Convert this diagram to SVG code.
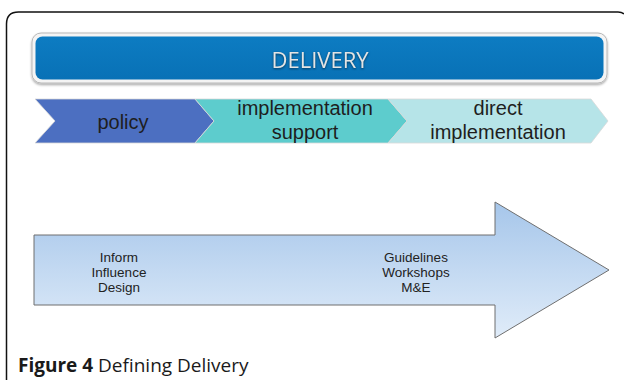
<svg xmlns="http://www.w3.org/2000/svg" width="624" height="380" viewBox="0 0 624 380">
<defs>
<linearGradient id="arrowGrad" x1="0" y1="0" x2="0" y2="1">
<stop offset="0" stop-color="#a6c6ea"/>
<stop offset="1" stop-color="#e0ecf9"/>
</linearGradient>
<linearGradient id="barGrad" x1="0" y1="0" x2="0" y2="1">
<stop offset="0" stop-color="#0d7cc2"/>
<stop offset="1" stop-color="#0871b6"/>
</linearGradient>
<filter id="sh" x="-5%" y="-20%" width="110%" height="150%">
<feDropShadow dx="0" dy="1.5" stdDeviation="1.2" flood-color="#000" flood-opacity="0.35"/>
</filter>
</defs>
<style>
.chev{stroke:#d8d8d8;stroke-width:0.8}
.lbl{font-family:"Liberation Sans",Arial,sans-serif;font-size:20px;fill:#1e1e1e;text-anchor:middle}
.small{font-family:"Liberation Sans",Arial,sans-serif;font-size:13.5px;fill:#222;text-anchor:middle}
.cap{font-family:"Open Sans","Noto Sans",sans-serif;font-size:19px;fill:#1a1a1a}
</style>
<rect width="624" height="380" fill="#ffffff"/>
<path d="M6.5,380 V24 Q6.5,12 18.5,12 H618 Q622,12 624,14" fill="none" stroke="#111" stroke-width="1.5"/>
<g id="delivery">
<rect x="32" y="33" width="575" height="50" rx="9" fill="#f4f4f4" stroke="#b8b8b8" stroke-width="1" filter="url(#sh)"/>
<rect x="35.5" y="36.5" width="568" height="43" rx="7" fill="url(#barGrad)"/>
<text x="320" y="68" text-anchor="middle" font-family="'Open Sans','Noto Sans',sans-serif" font-size="22" fill="#e4e4e4" style="filter:drop-shadow(0 1px 1px rgba(0,0,0,0.5))">DELIVERY</text>
</g>
<g id="policy">
<polygon class="chev" points="35,99 195,99 214,121 195,143 35,143 55,121" fill="#4c6fc1"/>
<text class="lbl" x="123" y="129">policy</text>
</g>
<g id="implementation-support">
<polygon class="chev" points="195,99 388,99 407,121 388,143 195,143 214,121" fill="#5dcccd"/>
<text class="lbl" x="305" y="115">implementation</text>
<text class="lbl" x="305" y="139">support</text>
</g>
<g id="direct-implementation">
<polygon class="chev" points="388,99 591,99 608,121 591,143 388,143 407,121" fill="#b6e4e8"/>
<text class="lbl" x="498" y="115">direct</text>
<text class="lbl" x="498" y="139">implementation</text>
</g>
<g id="big-arrow">
<polygon points="34,235 495,235 495,202 609,270 495,338 495,305 34,305" fill="url(#arrowGrad)" stroke="#6f6f6f" stroke-width="1"/>
<text class="small" x="119" y="262">Inform</text>
<text class="small" x="119" y="277">Influence</text>
<text class="small" x="119" y="292">Design</text>
<text class="small" x="416" y="262">Guidelines</text>
<text class="small" x="416" y="277">Workshops</text>
<text class="small" x="416" y="292">M&amp;E</text>
</g>
<g id="connectors"/>
<text class="cap" x="18" y="372"><tspan font-weight="700">Figure 4</tspan> Defining Delivery</text>
</svg>
